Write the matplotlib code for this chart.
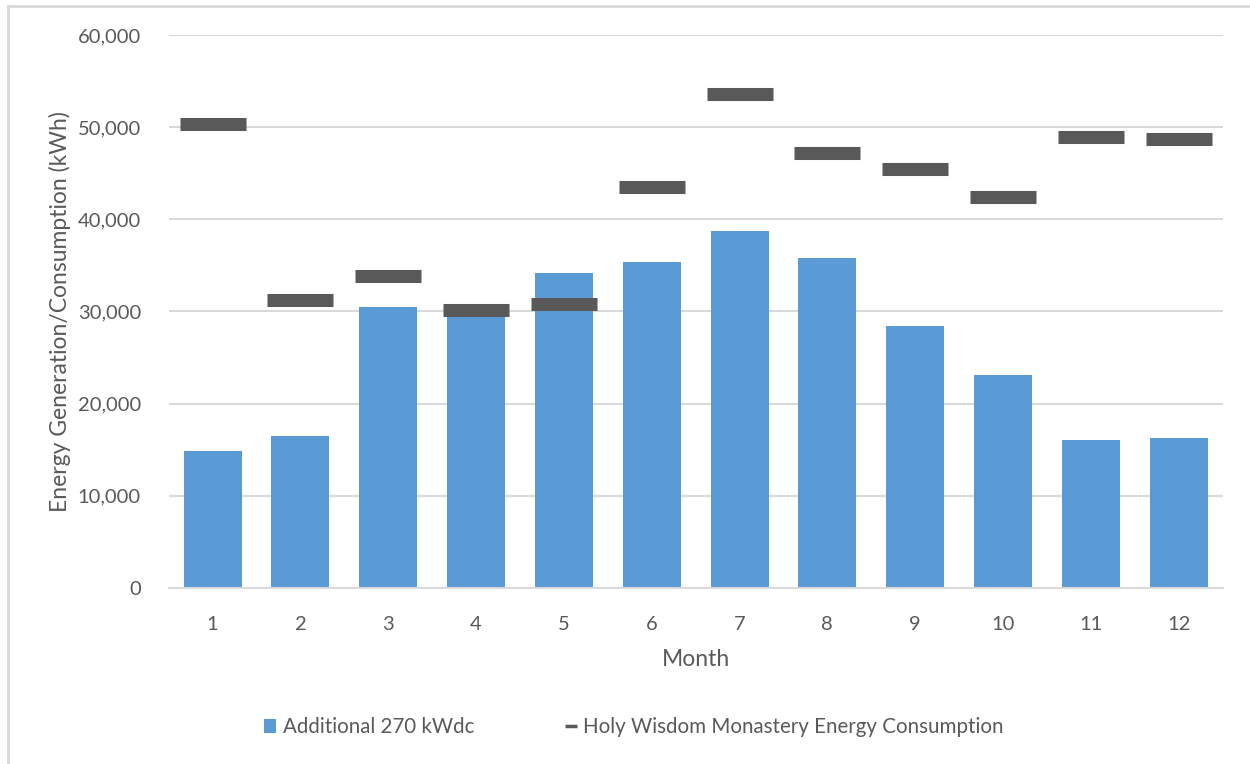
import matplotlib.pyplot as plt
from matplotlib.lines import Line2D
from matplotlib.patches import Patch
from matplotlib.ticker import FuncFormatter

months = [1, 2, 3, 4, 5, 6, 7, 8, 9, 10, 11, 12]
generation = [14850, 16500, 30450, 30100, 34150, 35400, 38700, 35800, 28400, 23100, 16050, 16250]
consumption = [50300, 31300, 33900, 30200, 30850, 43550, 53650, 47250, 45500, 42450, 48950, 48750]

bar_label = 'Additional 270 kWdc'
line_label = 'Holy Wisdom Monastery Energy Consumption'

plt.rcParams['font.family'] = ['Lato', 'DejaVu Sans']
text_col = '#595959'
grid_col = '#D9D9D9'

fig = plt.figure(figsize=(12.5, 7.64), dpi=100)
ax = fig.add_axes([0.135, 0.2304, 0.843, 0.7238])

ax.bar(months, generation, width=0.66, color='#5B9BD5', zorder=2)
ax.plot(months, consumption, linestyle='none', marker='_', markersize=47.5,
        markeredgewidth=9.4, color='#595959', zorder=3)

ax.set_xlim(0.5, 12.5)
ax.set_ylim(0, 60000)
ax.set_yticks(range(0, 60001, 10000))
ax.set_xticks(months)
ax.yaxis.set_major_formatter(FuncFormatter(lambda v, p: '{:,.0f}'.format(v)))
ax.grid(axis='y', color=grid_col, linewidth=1.5, zorder=0)
ax.set_axisbelow(True)
for s in ['top', 'right', 'left']:
    ax.spines[s].set_visible(False)
ax.spines['bottom'].set_color(grid_col)
ax.spines['bottom'].set_linewidth(1.5)
ax.tick_params(length=0, labelsize=14.5, colors=text_col)
ax.tick_params(axis='y', pad=20)
ax.tick_params(axis='x', pad=20)

ax.set_xlabel('Month', fontsize=16.5, color=text_col, labelpad=12)
ax.set_ylabel('Energy Generation/Consumption (kWh)', fontsize=16.5, color=text_col, labelpad=5)

handles = [Patch(facecolor='#5B9BD5', label=bar_label),
           Line2D([], [], linestyle='none', marker='_', markersize=8,
                  markeredgewidth=2.5, color='#595959', label=line_label)]
leg = fig.legend(handles=handles, loc='center', bbox_to_anchor=(0.507, 0.048), ncol=2,
                 frameon=False, fontsize=14.8, handlelength=0.6, handletextpad=0.3,
                 columnspacing=4.4)
for t in leg.get_texts():
    t.set_color(text_col)

# outer chart frame (only left and top edges visible)
fig.add_artist(Line2D([0.0064, 0.0064], [0, 0.9921], color=grid_col, linewidth=2, transform=fig.transFigure))
fig.add_artist(Line2D([0.0064, 1], [0.9921, 0.9921], color=grid_col, linewidth=2, transform=fig.transFigure))

fig.savefig('out.png', dpi=100)
